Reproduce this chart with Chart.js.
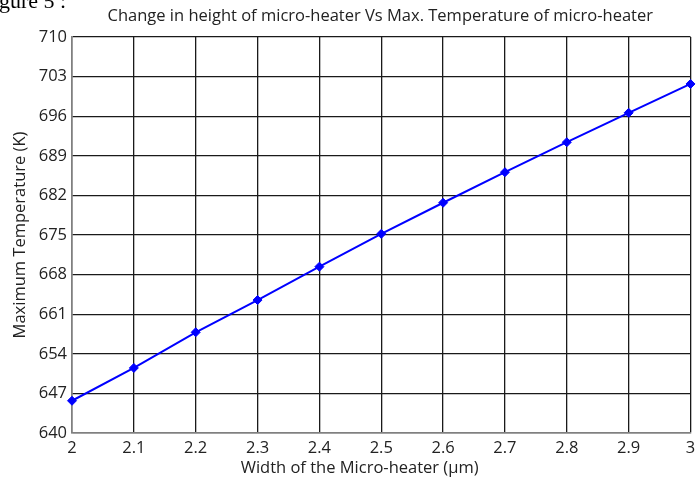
<!DOCTYPE html>
<html>
<head>
<meta charset="utf-8">
<script src="https://cdn.jsdelivr.net/npm/chart.js@4.4.1/dist/chart.umd.min.js"></script>
<style>
  html, body { margin: 0; padding: 0; background: #fff; }
  #wrap { position: relative; width: 696px; height: 479px; overflow: hidden; }
  #fig { position: absolute; left: -1px; top: -10px; font: 22px/22px "Liberation Serif", serif; color: #000; white-space: nowrap; }
  canvas { position: absolute; left: 0; top: 0; }
</style>
</head>
<body>
<div id="wrap">
  <canvas id="chart" width="696" height="479"></canvas>
  <div id="fig">gure 5 :</div>
</div>
<script>
const widths = [2, 2.1, 2.2, 2.3, 2.4, 2.5, 2.6, 2.7, 2.8, 2.9, 3];
const maxTemps = [645.7, 651.5, 657.8, 663.5, 669.4, 675.2, 680.7, 686.1, 691.4, 696.6, 701.7];
const chartTitle = 'Change in height of micro-heater Vs Max. Temperature of micro-heater';
const xLabel = 'Width of the Micro-heater (\u00b5m)';
const yLabel = 'Maximum Temperature (K)';

const FONT = '"Open Sans", "Liberation Sans", sans-serif';

// titre et libellé x placés comme dans l'original
const textesPlugin = {
    id: 'textesPlugin',
    afterDraw(chart) {
        const ctx = chart.ctx;
        const area = chart.chartArea;
        ctx.save();
        ctx.fillStyle = '#222';
        ctx.textAlign = 'center';
        ctx.textBaseline = 'middle';
        ctx.font = '16.5px ' + FONT;
        ctx.fillText(chartTitle, (area.left + area.right) / 2 - 1, 16);
        ctx.fillText(xLabel, area.left + (area.right - area.left) * 0.465, 468);
        ctx.restore();
    }
};

new Chart(document.getElementById('chart'), {
    type: 'line',
    data: {
        datasets: [{
            data: widths.map((w, i) => ({ x: w, y: maxTemps[i] })),
            borderColor: '#0000ff',
            backgroundColor: '#0000ff',
            borderWidth: 2,
            pointStyle: 'rectRot',
            pointRadius: 4.5,
            pointBorderWidth: 1,
            tension: 0,
            clip: false
        }]
    },
    options: {
        responsive: false,
        animation: false,
        layout: { padding: { top: 37, right: 0, left: 0, bottom: 0 } },
        plugins: {
            legend: { display: false },
            tooltip: { enabled: false }
        },
        scales: {
            x: {
                type: 'linear',
                min: 2,
                max: 3,
                ticks: {
                    stepSize: 0.1,
                    color: '#222',
                    font: { family: FONT, size: 16.5 },
                    padding: 5,
                    maxRotation: 0,
                    callback: v => String(Math.round(v * 10) / 10)
                },
                grid: { color: '#1a1a1a', lineWidth: 1.3, drawTicks: false },
                border: { color: '#808080', width: 1.5 },
                afterFit(scale) {
                    scale.height = 46;
                    scale.paddingRight = 4;
                }
            },
            y: {
                min: 640,
                max: 710,
                ticks: { stepSize: 7, color: '#222', font: { family: FONT, size: 16.5 }, padding: 5 },
                grid: { color: '#1a1a1a', lineWidth: 1.3, drawTicks: false },
                border: { color: '#808080', width: 1.5 },
                title: { display: true, text: yLabel, color: '#222', font: { family: FONT, size: 16.5 }, padding: { top: 10, bottom: 0 } },
                afterFit(scale) { scale.width = 72; }
            }
        }
    },
    plugins: [textesPlugin]
});
</script>
</body>
</html>
